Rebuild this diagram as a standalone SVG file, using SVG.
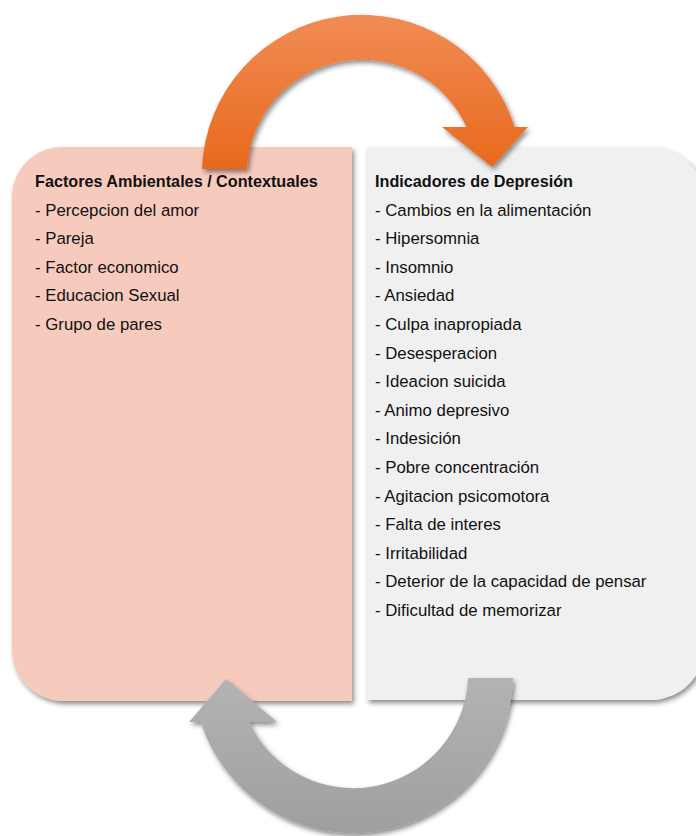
<svg xmlns="http://www.w3.org/2000/svg" width="696" height="836" viewBox="0 0 696 836">
<style>
  text { font-family: "Liberation Sans", Arial, sans-serif; font-size: 16.8px; fill: #111; }
  .title { font-weight: bold; font-size: 16.2px; }
</style>
<defs>
  <filter id="shadow" x="-10%" y="-10%" width="130%" height="130%">
    <feDropShadow dx="2" dy="3" stdDeviation="2.5" flood-color="#000" flood-opacity="0.45"/>
  </filter>
  <linearGradient id="orangeGrad" x1="0" y1="0" x2="0" y2="1">
    <stop offset="0" stop-color="#f18c55"/>
    <stop offset="1" stop-color="#e8691c"/>
  </linearGradient>
  <linearGradient id="grayGrad" x1="0" y1="0" x2="0" y2="1">
    <stop offset="0" stop-color="#b3b3b3"/>
    <stop offset="1" stop-color="#9f9f9f"/>
  </linearGradient>
</defs>
<rect width="696" height="836" fill="#ffffff"/>

<g id="node-factores">
  <path d="M 62,147 L 352,147 L 352,701 L 64,701 A 52 52 0 0 1 12,649 L 12,197 A 50 50 0 0 1 62,147 Z" fill="#f6cbbd" filter="url(#shadow)"/>
  <text class="title" x="35" y="187">Factores Ambientales / Contextuales</text>
  <text x="35" y="215.6">- Percepcion del amor</text>
  <text x="35" y="244.2">- Pareja</text>
  <text x="35" y="272.8">- Factor economico</text>
  <text x="35" y="301.4">- Educacion Sexual</text>
  <text x="35" y="330">- Grupo de pares</text>
</g>

<g id="node-indicadores">
  <path d="M 367,147 L 650,147 A 55 55 0 0 1 705,202 L 705,645 A 55 55 0 0 1 650,700 L 367,700 Z" fill="#f0f0f0" filter="url(#shadow)"/>
  <text class="title" x="375" y="187">Indicadores de Depresión</text>
  <text x="375" y="215.6">- Cambios en la alimentación</text>
  <text x="375" y="244.2">- Hipersomnia</text>
  <text x="375" y="272.8">- Insomnio</text>
  <text x="375" y="301.4">- Ansiedad</text>
  <text x="375" y="330">- Culpa inapropiada</text>
  <text x="375" y="358.6">- Desesperacion</text>
  <text x="375" y="387.2">- Ideacion suicida</text>
  <text x="375" y="415.8">- Animo depresivo</text>
  <text x="375" y="444.4">- Indesición</text>
  <text x="375" y="473">- Pobre concentración</text>
  <text x="375" y="501.6">- Agitacion psicomotora</text>
  <text x="375" y="530.2">- Falta de interes</text>
  <text x="375" y="558.8">- Irritabilidad</text>
  <text x="375" y="587.4">- Deterior de la capacidad de pensar</text>
  <text x="375" y="616">- Dificultad de memorizar</text>
</g>

<g id="connectors">
  <path id="arrow-top" d="M 202,169 A 160 160 0 0 1 514.6,127 L 528,127 L 492,167 L 442,127 L 466.5,127 A 115 115 0 0 0 247,169 Z" fill="url(#orangeGrad)" filter="url(#shadow)"/>
  <path id="arrow-bottom" d="M 513,678 A 160 160 0 0 1 200.7,722 L 189,722 L 226,679 L 277,722 L 249,722 A 115 115 0 0 0 468,678 Z" fill="url(#grayGrad)" filter="url(#shadow)"/>
</g>
</svg>
